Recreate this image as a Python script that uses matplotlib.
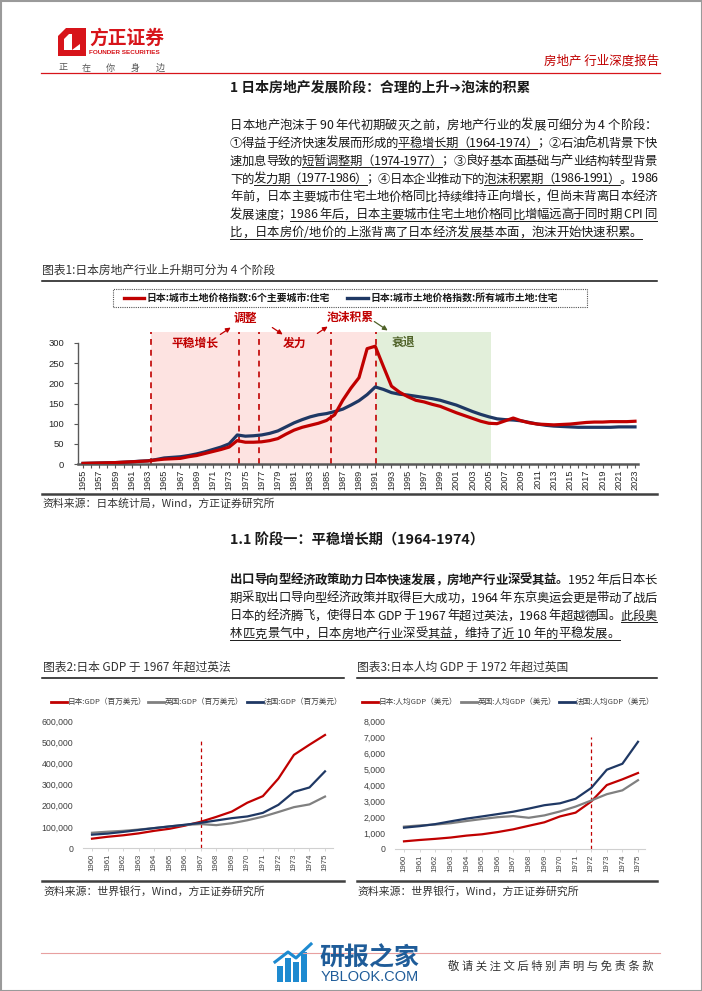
import matplotlib
matplotlib.use('Agg')
import matplotlib.pyplot as plt
from matplotlib.lines import Line2D
from matplotlib.patches import Rectangle, Polygon, FancyArrowPatch
from matplotlib.font_manager import FontProperties, findfont, get_font
try:
    from matplotlib.ft2font import LoadFlags
    NOHINT = LoadFlags.NO_HINTING
except Exception:
    NOHINT = 2

plt.rcParams['font.family'] = ['Noto Sans CJK SC', 'DejaVu Sans']
plt.rcParams['axes.unicode_minus'] = False

# ---------------- data ----------------
years1 = list(range(1955, 2024))
land_6cities = [1.5, 2, 2.5, 3, 3.5, 4.5, 5.5, 6.5, 7.5, 10,
                12, 13, 14, 18, 21, 26, 31, 36, 42, 58,
                54, 54, 55, 58, 63, 74, 84, 91, 96, 101,
                108, 122, 158, 188, 214, 286, 292, 242, 193, 178,
                167, 158, 154, 148, 143, 135, 127, 120, 113, 106,
                101, 100, 107, 114, 107, 102, 99, 98, 97, 98,
                99, 101, 103, 104, 104, 105, 105, 105, 106]
land_all = [1.5, 2, 2.5, 3, 3.5, 4.5, 5.5, 7, 8, 11,
            15, 16.5, 18, 21, 25, 30, 36, 42, 50, 72,
            69, 70, 72, 76, 82, 92, 102, 110, 117, 122,
            125, 130, 136, 146, 157, 172, 191, 185, 177, 173,
            171, 168, 165, 162, 158, 152, 146, 138, 130, 123,
            117, 112, 110, 109, 107, 103, 99, 96, 94, 93,
            92, 91, 91, 91, 91, 91, 92, 92, 92]
phase_bounds = [1963.4, 1974.2, 1976.7, 1985.6, 1991.1]
recession_end = 2005.3

gdp_years = list(range(1960, 1976))
japan_gdp = [44000, 53000, 60000, 69000, 81000, 91000, 106000, 124000,
             147000, 172000, 214000, 245000, 328000, 440000, 488000, 534000]
uk_gdp = [72000, 77000, 81000, 87000, 94000, 102000, 109000, 113000,
          108000, 117000, 131000, 148000, 170000, 193000, 206000, 243000]
france_gdp = [63000, 68000, 76000, 85000, 94000, 102000, 110000, 119000,
              130000, 141000, 149000, 166000, 204000, 265000, 286000, 362000]

japan_pc = [479, 563, 634, 717, 836, 919, 1058, 1229, 1451, 1669,
            2037, 2272, 2967, 3997, 4354, 4750]
uk_pc = [1398, 1472, 1526, 1613, 1748, 1874, 1987, 2058, 1952, 2100,
         2348, 2650, 3030, 3426, 3666, 4300]
france_pc = [1334, 1428, 1555, 1731, 1897, 2035, 2180, 2331, 2525, 2737,
             2856, 3140, 3813, 4955, 5328, 6700]

legend1 = ['日本:城市土地价格指数:6个主要城市:住宅', '日本:城市土地价格指数:所有城市土地:住宅']
legend2 = ['日本:GDP（百万美元）', '英国:GDP（百万美元）', '法国:GDP（百万美元）']
legend3 = ['日本:人均GDP（美元）', '英国:人均GDP（美元）', '法国:人均GDP（美元）']
phase_labels = ['平稳增长', '调整', '发力', '泡沫积累', '衰退']

RED = '#C00000'
NAVY = '#1F3864'
GRAY = '#808080'
PINK = '#FDE3E1'
GREEN = '#E2EFDA'
DKGREEN = '#4F6228'
TXT = '#1a1a1a'

W, H = 702, 991
fig = plt.figure(figsize=(W / 100, H / 100), dpi=100)


def fxy(x, y):
    return x / W, 1 - y / H


def ftext(x, y, s, **kw):
    a, b = fxy(x, y)
    return fig.text(a, b, s, **kw)


def hline(x0, x1, y, **kw):
    a0, b = fxy(x0, y)
    a1, _ = fxy(x1, y)
    fig.add_artist(Line2D([a0, a1], [b, b], transform=fig.transFigure, **kw))


def add_axes_px(x0, y0, x1, y1):
    return fig.add_axes([x0 / W, 1 - y1 / H, (x1 - x0) / W, (y1 - y0) / H])


REGF = get_font(findfont(FontProperties(family='Noto Sans CJK SC')))
BLDF = get_font(findfont(FontProperties(family='Noto Sans CJK SC', weight='bold')))


def advance(ch, bold, size):
    f = BLDF if bold else REGF
    f.set_size(size, 100)
    g = f.load_char(ord(ch), flags=NOHINT)
    return g.linearHoriAdvance / 65536


def para_line(segs, x0, yc, size=8.9, width=None):
    items = []
    for text, bold, ul in segs:
        for ch in text:
            items.append((ch, bold, ul))
    advs = [advance(ch, b, size) for ch, b, u in items]
    nat = sum(advs)
    gap = (width - nat) / (len(items) - 1) if width else 0.0
    base = yc + 4.5
    x = x0
    runs = []
    for (ch, b, u), a in zip(items, advs):
        if ch != ' ':
            ftext(x, base, ch, fontsize=size, fontweight='bold' if b else 'normal',
                  ha='left', va='baseline', color=TXT)
        if u:
            if runs and abs(runs[-1][1] - x) < 0.01 + abs(gap) + 0.5:
                runs[-1][1] = x + a
            else:
                runs.append([x, x + a])
        x += a + gap
    for r0, r1 in runs:
        hline(r0, r1, base + 2.6, color=TXT, lw=0.7)


# ---------------- page frame & header ----------------
fig.add_artist(Rectangle((0.5 / W, 0.5 / H), 1 - 1.0 / W, 1 - 1.0 / H, transform=fig.transFigure,
                         fill=False, edgecolor='#9a9a9a', lw=1.5))
# Founder logo mark
outer = [fxy(*p) for p in [(58, 36), (66, 28), (86, 28), (86, 56), (58, 56)]]
inner = [fxy(*p) for p in [(64, 39), (69, 34), (80, 34), (80, 50), (64, 50)]]
fig.add_artist(Polygon(outer, closed=True, transform=fig.transFigure, color='#D7141A', lw=0))
fig.add_artist(Polygon(inner, closed=True, transform=fig.transFigure, color='white', lw=0))
fig.add_artist(Polygon([fxy(*p) for p in [(72, 34), (80, 34), (80, 44), (72, 50)]], closed=True,
                       transform=fig.transFigure, color='#D7141A', lw=0))
ftext(89, 38, '方正证券', fontsize=13.5, fontweight='bold', color='#D7141A', ha='left', va='center')
ftext(89, 52.5, 'FOUNDER SECURITIES', fontsize=4.6, fontweight='bold', color='#D7141A',
      ha='left', va='center', family='Liberation Sans')
for cx, ch in zip([63, 86, 110, 135, 160], '正在你身边'):
    ftext(cx, 70.5, ch, fontsize=6.5, color='#555555', ha='center', va='baseline')
ftext(659, 61, '房地产 行业深度报告', fontsize=9, color=RED, ha='right', va='center')
hline(41, 660, 72.5, color='#D7141A', lw=0.9)

# ---------------- section heading & paragraph 1 ----------------
ftext(230, 88, '1 日本房地产发展阶段：合理的上升➔泡沫的积累', fontsize=10, fontweight='bold',
      color=TXT, ha='left', va='center')

p1 = [
    [('日本地产泡沫于 90 年代初期破灭之前，房地产行业的发展可细分为 4 个阶段：', 0, 0)],
    [('①得益于经济快速发展而形成的', 0, 0), ('平稳增长期（1964-1974）', 0, 1), ('；②石油危机背景下快', 0, 0)],
    [('速加息导致的', 0, 0), ('短暂调整期（1974-1977）', 0, 1), ('；③良好基本面基础与产业结构转型背景', 0, 0)],
    [('下的', 0, 0), ('发力期（1977-1986）', 0, 1), ('；④日本企业推动下的', 0, 0),
     ('泡沫积累期（1986-1991）', 0, 1), ('。1986', 0, 0)],
    [('年前，日本主要城市住宅土地价格同比持续维持正向增长，但尚未背离日本经济', 0, 0)],
    [('发展速度；', 0, 0), ('1986 年后，日本主要城市住宅土地价格同比增幅远高于同时期 CPI 同', 0, 1)],
    [('比，日本房价/地价的上涨背离了日本经济发展基本面，泡沫开始快速积累。', 0, 1)],
]
for i, segs in enumerate(p1):
    para_line(segs, 230, 124.3 + 17.9 * i, width=None if i == len(p1) - 1 else 427)

# ---------------- figure 1 ----------------
ftext(42, 270, '图表1:日本房地产行业上升期可分为 4 个阶段', fontsize=8.5, color='#333333',
      ha='left', va='center')
hline(42, 657, 281, color='#111111', lw=1.1)

# legend box
fig.add_artist(Rectangle(fxy(113, 307), (587 - 113) / W, 18 / H, transform=fig.transFigure,
                         fill=False, edgecolor='#555555', lw=0.8, linestyle=(0, (1, 1))))
hline(124, 144, 298, color=RED, lw=2.4)
ftext(146, 298, legend1[0], fontsize=7.1, fontweight='bold', color=TXT, ha='left', va='center')
hline(347, 368, 298, color=NAVY, lw=2.4)
ftext(370, 298, legend1[1], fontsize=7.1, fontweight='bold', color=TXT, ha='left', va='center')

PX_YR = (635 - 83) / (2023 - 1955)
PX_V = (464 - 343) / 300.0
ax1 = add_axes_px(78, 464 - 327 * PX_V, 638, 464)
ax1.set_xlim(1955 - 5 / PX_YR, 2023 + 3 / PX_YR)
ax1.set_ylim(0, 327)
ax1.axvspan(phase_bounds[0], phase_bounds[-1], color=PINK, lw=0, zorder=0)
ax1.axvspan(phase_bounds[-1], recession_end, color=GREEN, lw=0, zorder=0)
for xb in phase_bounds:
    ax1.axvline(xb, color=RED, lw=1.2, linestyle=(0, (3.5, 3)), zorder=1)
ax1.plot(years1, land_all, color=NAVY, lw=2.3, zorder=3, solid_joinstyle='round')
ax1.plot(years1, land_6cities, color=RED, lw=2.3, zorder=4, solid_joinstyle='round')
for s in ['top', 'right']:
    ax1.spines[s].set_visible(False)
ax1.spines['left'].set_bounds(0, 300)
ax1.spines['left'].set_color('#595959')
ax1.spines['left'].set_linewidth(1.0)
ax1.spines['bottom'].set_color('#595959')
ax1.spines['bottom'].set_linewidth(1.8)
ax1.set_yticks(range(0, 301, 50), labels=[str(v) for v in range(0, 301, 50)],
               fontsize=6.8, family='Liberation Sans', color='#262626')
xt = list(range(1955, 2024, 2))
ax1.set_xticks(xt, labels=[str(v) for v in xt], fontsize=6.6, family='Liberation Sans',
               color='#262626', rotation=90)
ax1.set_xticks(range(1955, 2024), minor=True)
ax1.tick_params(axis='y', length=3, width=0.8, color='#595959', pad=7)
ax1.tick_params(axis='x', which='both', length=3, width=0.8, color='#595959', pad=1)
ax1.patch.set_alpha(0)

# phase annotations
ann_pos = [(195, 343), (245, 318), (295, 343), (350, 317), (403, 342)]
for (px, py), lab, col in zip(ann_pos, phase_labels, [RED, RED, RED, RED, DKGREEN]):
    ftext(px, py, lab, fontsize=8.5, fontweight='bold', color=col, ha='center', va='center')
arrows = [((218, 336), (233, 326), RED), ((270, 326), (285, 336), RED),
          ((315, 335), (330, 325), RED), ((372, 320), (390, 332), DKGREEN)]
for a, b, col in arrows:
    fig.add_artist(FancyArrowPatch(fxy(*a), fxy(*b), transform=fig.transFigure,
                                   arrowstyle='-|>', mutation_scale=7, color=col, lw=0.9))

hline(42, 657, 494, color='#404040', lw=1.8)
ftext(42, 504, '资料来源：日本统计局，Wind，方正证券研究所', fontsize=7.8, color='#333333',
      ha='left', va='center')

# ---------------- section 1.1 ----------------
ftext(230, 541, '1.1 阶段一：平稳增长期（1964-1974）', fontsize=10.3, fontweight='bold', color=TXT,
      ha='left', va='center')
p2 = [
    [('出口导向型经济政策助力日本快速发展，房地产行业深受其益。', 1, 0), ('1952 年后日本长', 0, 0)],
    [('期采取出口导向型经济政策并取得巨大成功，1964 年东京奥运会更是带动了战后', 0, 0)],
    [('日本的经济腾飞，使得日本 GDP 于 1967 年超过英法，1968 年超越德国。', 0, 0), ('此段奥', 0, 1)],
    [('林匹克景气中，日本房地产行业深受其益，维持了近 10 年的平稳发展。', 0, 1)],
]
for i, segs in enumerate(p2):
    para_line(segs, 230, 579 + 18 * i, width=None if i == len(p2) - 1 else 427)


# ---------------- figures 2 and 3 ----------------
def small_chart(x0, x1, y0, y1, xlim, ymax, step, series, labels, cut_year, cut_val,
                leg_x, title, tx, rule):
    ftext(tx, 667, title, fontsize=8.5, color='#333333', ha='left', va='center')
    hline(rule[0], rule[1], 678, color='#111111', lw=1.1)
    for lx, lab, col in zip(leg_x, labels, [RED, GRAY, NAVY]):
        hline(lx, lx + 16, 702, color=col, lw=2.0)
        ftext(lx + 17, 702, lab, fontsize=5.5, color='#404040', ha='left', va='center')
    ax = add_axes_px(x0, y0, x1, y1)
    ax.set_xlim(*xlim)
    ax.set_ylim(0, ymax)
    for vals, col in zip(series, [RED, GRAY, NAVY]):
        ax.plot(gdp_years, vals, color=col, lw=1.6, zorder=3)
    ax.plot([cut_year, cut_year], [0, cut_val], color=RED, lw=0.9, linestyle=(0, (3, 2.5)), zorder=2)
    for s in ['top', 'right', 'left']:
        ax.spines[s].set_visible(False)
    ax.spines['bottom'].set_color('#d0d0d0')
    ax.spines['bottom'].set_linewidth(0.8)
    yt = list(range(0, ymax + 1, step))
    ax.set_yticks(yt, labels=[f'{v:,}' for v in yt], fontsize=6.3, family='Liberation Sans',
                  color='#404040')
    ax.set_xticks(gdp_years, labels=[str(v) for v in gdp_years], fontsize=5.6,
                  family='Liberation Sans', color='#404040', rotation=90)
    ax.tick_params(axis='y', length=0, pad=7)
    ax.tick_params(axis='x', length=2, width=0.6, color='#d0d0d0', pad=2)
    ax.patch.set_alpha(0)
    hline(rule[0], rule[1], 881, color='#404040', lw=1.8)
    ftext(tx, 891, '资料来源：世界银行，Wind，方正证券研究所', fontsize=7.8, color='#333333',
          ha='left', va='center')


px2 = (325 - 92) / 15
small_chart(83, 333, 721, 848, (1960 - 9 / px2, 1975 + 8 / px2), 600000, 100000,
            [japan_gdp, uk_gdp, france_gdp], legend2, 1967, 520000,
            [51, 148, 247], '图表2:日本 GDP 于 1967 年超过英法', 43, (42, 344))
px3 = (638 - 404) / 15
small_chart(395, 645, 721, 849, (1960 - 9 / px3, 1975 + 7 / px3), 8000, 1000,
            [japan_pc, uk_pc, france_pc], legend3, 1972, 7000,
            [362, 461, 559], '图表3:日本人均 GDP 于 1972 年超过英国', 357, (357, 657))

# ---------------- footer ----------------
hline(41, 660, 953, color='#E8A0A0', lw=0.8)
BLUE = '#1E8AD0'
for bx, top in zip([277, 285, 293, 301], [966, 958, 962, 952]):
    fig.add_artist(Rectangle(fxy(bx, 982), 6 / W, (982 - top) / H, transform=fig.transFigure,
                             color=BLUE, lw=0))
fig.add_artist(Line2D([fxy(275, 962)[0], fxy(288, 952)[0], fxy(296, 958)[0], fxy(311, 944)[0]],
                      [fxy(275, 962)[1], fxy(288, 952)[1], fxy(296, 958)[1], fxy(311, 944)[1]],
                      transform=fig.transFigure, color=BLUE, lw=2.2))
ftext(319, 958, '研报之家', fontsize=18, fontweight='bold', color='#1F5C99', ha='left', va='center')
ftext(321, 977, 'YBLOOK.COM', fontsize=10.5, color='#1F5C99', ha='left', va='center',
      family='Liberation Sans')
ftext(448, 969.5, ' '.join('敬请关注文后特别声明与免责条款'), fontsize=8.2, color='#333333',
      ha='left', va='baseline')

fig.savefig('out.png', dpi=100)
